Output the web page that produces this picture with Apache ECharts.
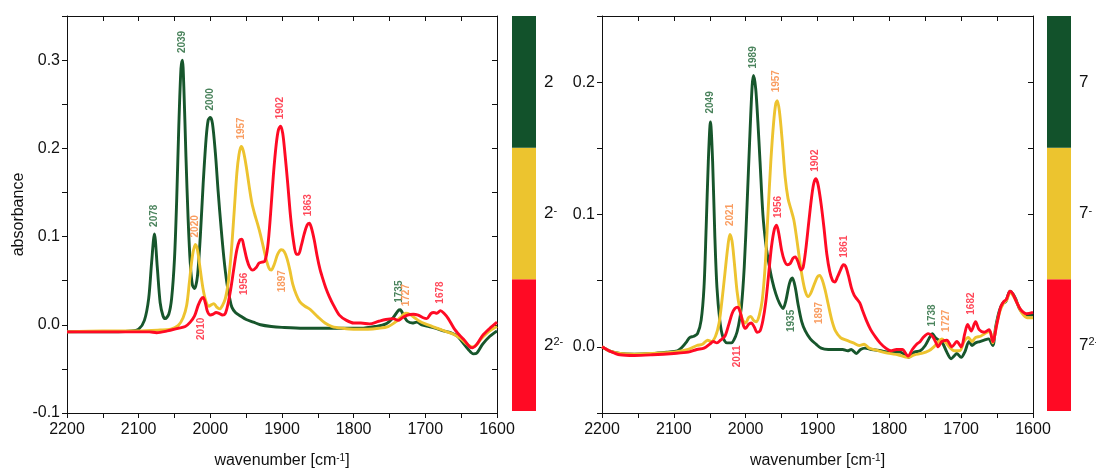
<!DOCTYPE html>
<html><head><meta charset="utf-8">
<script src="https://cdn.jsdelivr.net/npm/echarts@6/dist/echarts.min.js"></script>
<style>html,body{margin:0;padding:0;background:#fff}#c{width:1096px;height:469px}</style>
</head><body><div id="c"></div>
<script>
// ---------- data: [wavenumber, absorbance] ----------
const specL2 = [[2200,-0.008],[2150,-0.008],[2110,-0.007],[2100,-0.005],[2092,0.005],[2086,0.030],[2082,0.070],[2078,0.103],[2074,0.065],[2070,0.025],[2066,0.010],[2063,0.007],[2058,0.012],[2054,0.030],[2050,0.075],[2047,0.140],[2044,0.225],[2041,0.290],[2039,0.300],[2037,0.270],[2034,0.190],[2031,0.120],[2028,0.070],[2025,0.045],[2022,0.041],[2018,0.055],[2014,0.100],[2010,0.160],[2006,0.210],[2003,0.232],[2000,0.235],[1997,0.228],[1993,0.195],[1989,0.150],[1985,0.110],[1981,0.075],[1977,0.048],[1973,0.030],[1970,0.020],[1965,0.014],[1958,0.010],[1950,0.006],[1940,0.003],[1930,0.000],[1915,-0.002],[1900,-0.003],[1870,-0.004],[1840,-0.004],[1810,-0.004],[1790,-0.004],[1770,-0.002],[1755,0.001],[1745,0.008],[1738,0.016],[1735,0.017],[1730,0.010],[1725,0.004],[1718,0.002],[1712,0.003],[1705,0.000],[1695,-0.002],[1685,-0.004],[1675,-0.007],[1665,-0.009],[1655,-0.013],[1648,-0.020],[1640,-0.028],[1633,-0.033],[1628,-0.032],[1620,-0.022],[1610,-0.013],[1600,-0.007]];
const specL2m = [[2200,-0.008],[2150,-0.007],[2100,-0.007],[2070,-0.006],[2055,-0.005],[2045,-0.001],[2038,0.008],[2033,0.022],[2029,0.050],[2025,0.078],[2021,0.091],[2018,0.085],[2014,0.062],[2010,0.040],[2006,0.026],[2002,0.021],[1998,0.023],[1995,0.024],[1991,0.020],[1987,0.018],[1983,0.022],[1979,0.030],[1975,0.048],[1971,0.080],[1967,0.125],[1963,0.172],[1960,0.193],[1957,0.202],[1954,0.197],[1950,0.180],[1946,0.158],[1942,0.138],[1938,0.125],[1934,0.114],[1930,0.102],[1926,0.088],[1922,0.074],[1918,0.064],[1915,0.062],[1911,0.068],[1906,0.080],[1901,0.085],[1897,0.083],[1893,0.075],[1889,0.062],[1885,0.046],[1880,0.034],[1875,0.026],[1868,0.021],[1860,0.017],[1850,0.009],[1840,0.002],[1830,-0.002],[1815,-0.004],[1800,-0.005],[1780,-0.005],[1765,-0.004],[1752,-0.002],[1742,0.003],[1735,0.008],[1727,0.013],[1722,0.012],[1715,0.008],[1708,0.004],[1700,0.001],[1690,-0.002],[1680,-0.005],[1670,-0.008],[1660,-0.011],[1650,-0.016],[1642,-0.022],[1635,-0.025],[1630,-0.024],[1622,-0.016],[1612,-0.008],[1600,-0.002]];
const specL2mm = [[2200,-0.008],[2150,-0.008],[2100,-0.008],[2085,-0.008],[2075,-0.009],[2060,-0.007],[2045,-0.004],[2035,-0.002],[2028,0.003],[2022,0.010],[2017,0.022],[2013,0.029],[2010,0.031],[2007,0.025],[2004,0.015],[2000,0.011],[1996,0.012],[1992,0.014],[1988,0.013],[1983,0.011],[1979,0.013],[1975,0.025],[1971,0.043],[1967,0.065],[1963,0.085],[1959,0.096],[1956,0.097],[1953,0.088],[1949,0.074],[1945,0.065],[1941,0.062],[1936,0.065],[1932,0.070],[1928,0.071],[1924,0.072],[1920,0.088],[1916,0.125],[1912,0.170],[1908,0.205],[1905,0.221],[1902,0.225],[1899,0.217],[1896,0.195],[1892,0.160],[1888,0.122],[1884,0.095],[1880,0.080],[1877,0.080],[1873,0.090],[1869,0.103],[1865,0.113],[1862,0.115],[1859,0.110],[1855,0.096],[1851,0.078],[1847,0.063],[1843,0.052],[1839,0.042],[1834,0.032],[1828,0.022],[1820,0.011],[1810,0.005],[1800,0.002],[1790,0.002],[1778,0.001],[1765,0.004],[1755,0.006],[1745,0.007],[1738,0.005],[1732,0.008],[1725,0.011],[1717,0.012],[1710,0.011],[1703,0.008],[1698,0.007],[1692,0.013],[1688,0.014],[1684,0.013],[1679,0.016],[1674,0.013],[1668,0.007],[1660,-0.004],[1652,-0.012],[1645,-0.018],[1638,-0.025],[1634,-0.026],[1628,-0.022],[1620,-0.012],[1610,-0.004],[1600,0.003]];

const specR7 = [[2200,0.000],[2190,-0.003],[2175,-0.005],[2155,-0.0055],[2130,-0.005],[2110,-0.004],[2095,-0.003],[2088,0.000],[2082,0.004],[2078,0.007],[2072,0.008],[2067,0.010],[2062,0.020],[2058,0.045],[2055,0.090],[2052,0.140],[2049,0.170],[2046,0.140],[2043,0.085],[2040,0.045],[2036,0.020],[2032,0.008],[2026,0.003],[2020,0.003],[2014,0.008],[2010,0.016],[2006,0.030],[2002,0.060],[1998,0.108],[1994.5,0.155],[1991,0.197],[1989,0.205],[1986,0.195],[1983,0.170],[1980,0.140],[1976,0.100],[1972,0.078],[1968,0.064],[1963,0.050],[1958,0.040],[1953,0.033],[1948,0.029],[1944,0.035],[1939,0.048],[1935,0.052],[1931,0.045],[1927,0.032],[1922,0.019],[1917,0.012],[1910,0.006],[1902,0.002],[1895,-0.001],[1885,-0.002],[1875,-0.002],[1865,-0.002],[1858,-0.003],[1853,-0.002],[1846,-0.005],[1840,-0.002],[1834,-0.001],[1825,-0.002],[1812,-0.003],[1800,-0.004],[1785,-0.004],[1773,-0.008],[1765,-0.004],[1757,-0.003],[1750,0.001],[1744,0.007],[1740,0.010],[1736,0.007],[1731,0.005],[1726,0.003],[1720,-0.004],[1714,-0.009],[1710,-0.007],[1706,-0.005],[1700,-0.008],[1695,-0.004],[1689,0.004],[1685,0.001],[1680,0.003],[1674,0.004],[1668,0.005],[1662,0.006],[1656,0.001],[1652,0.015],[1647,0.027],[1642,0.033],[1638,0.034],[1632,0.042],[1628,0.040],[1624,0.036],[1619,0.029],[1613,0.025],[1607,0.024],[1600,0.024]];
const specR7m = [[2200,0.000],[2190,-0.003],[2175,-0.005],[2155,-0.0055],[2130,-0.005],[2100,-0.004],[2080,-0.002],[2068,0.001],[2060,0.002],[2053,0.005],[2048,0.004],[2042,0.008],[2037,0.018],[2033,0.035],[2029,0.055],[2025,0.075],[2022,0.085],[2019,0.080],[2016,0.065],[2012,0.042],[2008,0.028],[2004,0.020],[2000,0.018],[1996,0.022],[1993,0.023],[1989,0.020],[1985,0.019],[1981,0.024],[1977,0.035],[1973,0.060],[1969,0.100],[1965,0.140],[1961,0.170],[1958,0.184],[1956,0.186],[1953,0.178],[1949,0.155],[1945,0.128],[1941,0.112],[1937,0.104],[1933,0.096],[1929,0.082],[1925,0.066],[1921,0.052],[1917,0.042],[1913,0.038],[1909,0.041],[1904,0.048],[1900,0.053],[1897,0.054],[1893,0.050],[1889,0.042],[1885,0.032],[1880,0.020],[1875,0.012],[1868,0.007],[1860,0.005],[1850,0.003],[1842,0.001],[1835,0.002],[1828,-0.001],[1815,-0.003],[1800,-0.005],[1788,-0.006],[1774,-0.008],[1765,-0.006],[1755,-0.005],[1745,-0.003],[1738,0.000],[1733,0.003],[1727,0.006],[1721,0.003],[1715,-0.001],[1710,-0.003],[1702,-0.003],[1696,0.004],[1690,0.007],[1685,0.004],[1680,0.007],[1673,0.008],[1667,0.010],[1660,0.012],[1656,0.003],[1651,0.016],[1646,0.027],[1641,0.033],[1637,0.035],[1632,0.041],[1628,0.039],[1622,0.033],[1616,0.026],[1608,0.022],[1600,0.022]];
const specR7mm = [[2200,0.000],[2190,-0.003],[2175,-0.006],[2155,-0.0065],[2130,-0.006],[2100,-0.005],[2080,-0.004],[2068,-0.002],[2058,-0.001],[2050,0.002],[2045,0.004],[2040,0.003],[2035,0.005],[2029,0.008],[2024,0.016],[2019,0.025],[2015,0.029],[2011,0.030],[2007,0.025],[2003,0.016],[2000,0.014],[1996,0.017],[1992,0.018],[1988,0.015],[1984,0.011],[1980,0.012],[1976,0.020],[1972,0.034],[1968,0.055],[1964,0.076],[1960,0.089],[1957,0.092],[1954,0.086],[1950,0.073],[1946,0.065],[1942,0.062],[1938,0.063],[1934,0.067],[1931,0.068],[1927,0.064],[1923,0.058],[1920,0.060],[1916,0.075],[1912,0.095],[1908,0.114],[1905,0.124],[1902,0.127],[1899,0.122],[1895,0.108],[1891,0.090],[1887,0.070],[1883,0.057],[1879,0.050],[1876,0.049],[1872,0.053],[1868,0.058],[1864,0.062],[1861,0.061],[1857,0.054],[1853,0.045],[1849,0.039],[1845,0.036],[1841,0.033],[1837,0.027],[1832,0.020],[1826,0.013],[1820,0.008],[1813,0.003],[1805,-0.001],[1798,-0.003],[1790,-0.002],[1782,-0.002],[1774,-0.007],[1768,-0.002],[1762,0.002],[1757,0.004],[1753,0.007],[1746,0.010],[1740,0.008],[1735,0.003],[1732,0.000],[1727,0.004],[1720,0.005],[1713,0.000],[1706,0.004],[1700,0.000],[1695,0.010],[1691,0.017],[1686,0.012],[1680,0.019],[1675,0.013],[1668,0.011],[1661,0.013],[1656,0.004],[1650,0.018],[1645,0.030],[1641,0.034],[1637,0.036],[1632,0.042],[1628,0.040],[1623,0.034],[1617,0.028],[1609,0.025],[1600,0.026]];

// peak annotations: text, wavenumber, absorbance anchor, side, colour index (0 neutral,1 anion,2 dianion)
const annL_text = ['2078','2039','2000','2020','1957','1902','1863','1735','1727','1678','2010','1956','1897'];
const annL_wn   = [2078,2039,2000,2021,1957,1902,1863,1737,1726,1679,2012,1952,1900];
const annL_abs  = [0.103,0.300,0.235,0.091,0.202,0.225,0.115,0.017,0.013,0.016,0.008,0.059,0.062];
const annL_side = ['up','up','up','up','up','up','up','up','up','up','down','down','down'];
const annL_col  = [0,0,0,1,1,2,2,0,1,2,2,2,1];
const annR_text = ['2049','1989','2021','1957','1956','1902','1861','1738','1727','1682','2011','1935','1897'];
const annR_wn   = [2050,1990,2022,1957,1955,1903,1863,1740,1721,1686,2012,1937,1897];
const annR_abs  = [0.171,0.205,0.086,0.187,0.092,0.127,0.062,0.010,0.006,0.019,0.001,0.028,0.034];
const annR_side = ['up','up','up','up','up','up','up','up','up','up','down','down','down'];
const annR_col  = [0,0,1,1,2,2,2,0,1,2,2,0,1];

// colour-bar legend (bottom to top)
const cbL_base = ['2','2','2'];
const cbR_base = ['7','7','7'];
const cb_sup   = ['2-','-',''];

const xTicks = {min:1600, max:2200, interval:50};
const yLeft  = {min:-0.1, max:0.35, interval:0.05};
const yRight = {min:-0.05, max:0.25, interval:0.05};

// ---------- styling ----------
const FONT = 'Liberation Sans, Arial, sans-serif';
const LINE = ['#17562c','#edc32f','#ff0a24'];
const BAR  = ['#12522b','#ecc42f','#ff0a24'];
const LBL  = ['#1d6433','#f7843a','#ff1a30'];
const AX = '#111';

function yFmt(v){ const k = Math.round(v*100); return (k % 10 === 0) ? (k/100).toFixed(1) : ''; }
function xFmt(v){ return (Math.round(v) % 100 === 0) ? String(Math.round(v)) : ''; }

const grids = [
  {left:67, top:16, width:430, height:397, outerBoundsMode:'none', containLabel:false},
  {left:602, top:16, width:431, height:397, outerBoundsMode:'none', containLabel:false},
  {left:512, top:16, width:24, height:395, outerBoundsMode:'none', containLabel:false},
  {left:1047, top:16, width:24, height:395, outerBoundsMode:'none', containLabel:false}
];

function xAxes(g){
  return [
    {type:'value', gridIndex:g, position:'bottom', inverse:true, min:xTicks.min, max:xTicks.max, interval:xTicks.interval,
     axisLine:{show:true, onZero:false, lineStyle:{color:AX, width:1}},
     axisTick:{show:true, inside:false, length:5, lineStyle:{color:AX}},
     axisLabel:{formatter:xFmt, fontSize:16, color:AX, fontFamily:FONT, margin:9, showMinLabel:true, showMaxLabel:true},
     splitLine:{show:false},
     name:'wavenumber [cm{s|-1}]', nameLocation:'middle', nameGap:40,
     nameTextStyle:{fontSize:16, color:AX, fontFamily:FONT, rich:{s:{fontSize:10, color:AX, fontFamily:FONT, verticalAlign:'top', lineHeight:14}}}},
    {type:'value', gridIndex:g, position:'top', inverse:true, min:xTicks.min, max:xTicks.max, interval:xTicks.interval,
     axisLine:{show:true, onZero:false, lineStyle:{color:AX, width:1}},
     axisTick:{show:true, inside:true, length:5, lineStyle:{color:AX}},
     axisLabel:{show:false}, splitLine:{show:false}}
  ];
}
function yAxes(g, r, name){
  return [
    {type:'value', gridIndex:g, position:'left', min:r.min, max:r.max, interval:r.interval,
     axisLine:{show:true, onZero:false, lineStyle:{color:AX, width:1}},
     axisTick:{show:true, inside:false, length:5, lineStyle:{color:AX}},
     axisLabel:{formatter:yFmt, fontSize:16, color:AX, fontFamily:FONT, margin:7},
     splitLine:{show:false},
     name:name, nameLocation:'middle', nameGap:40, nameRotate:90,
     nameTextStyle:{fontSize:16, color:AX, fontFamily:FONT}},
    {type:'value', gridIndex:g, position:'right', min:r.min, max:r.max, interval:r.interval,
     axisLine:{show:true, onZero:false, lineStyle:{color:AX, width:1}},
     axisTick:{show:true, inside:true, length:5, lineStyle:{color:AX}},
     axisLabel:{show:false}, splitLine:{show:false}}
  ];
}

const xAxis = [...xAxes(0), ...xAxes(1),
  {type:'category', gridIndex:2, data:['c'], show:false},
  {type:'category', gridIndex:3, data:['c'], show:false}];
const yAxis = [...yAxes(0, yLeft, 'absorbance'), ...yAxes(1, yRight, ''),
  {type:'value', gridIndex:2, min:0, max:3, show:false},
  {type:'value', gridIndex:3, min:0, max:3, show:false}];

function lineSeries(data, xi, yi, ci){
  return {type:'line', data:data, xAxisIndex:xi, yAxisIndex:yi, showSymbol:false, symbol:'none',
    smooth:0.3, lineStyle:{color:LINE[ci], width:2.9}, itemStyle:{color:LINE[ci]}, silent:true, z:2+ci};
}
function annSeries(txt, wn, ab, side, col, xi, yi){
  const data = txt.map((t,i)=>({
    name:t, value:[wn[i], ab[i]],
    label: side[i]==='up'
      ? {position:'top', distance:7, align:'left', verticalAlign:'middle', color:LBL[col[i]]}
      : {position:'bottom', distance:0, align:'right', verticalAlign:'middle', color:LBL[col[i]]}
  }));
  return {type:'scatter', data:data, xAxisIndex:xi, yAxisIndex:yi, symbolSize:0, silent:true, z:10,
    label:{show:true, rotate:90, formatter:'{b}', fontSize:10, fontWeight:'bold', fontFamily:FONT}};
}
const cbRich = {b:{fontSize:17, color:AX, fontFamily:FONT}, s:{fontSize:11, color:AX, fontFamily:FONT, verticalAlign:'top', lineHeight:12}};
function cbSeries(base, gi, stack){
  // bottom to top: dianion (red), anion (yellow), neutral (green)
  const colIdx = [2,1,0];
  return base.map((b,i)=>({
    type:'bar', xAxisIndex:gi, yAxisIndex:gi, stack:stack, data:[1], barWidth:'100%', silent:true,
    itemStyle:{color:BAR[colIdx[i]]},
    label:{show:true, position:'right', distance:8,
      formatter: cb_sup[i] ? '{b|'+b+'}{s|'+cb_sup[i]+'}' : '{b|'+b+'}', rich:cbRich}
  }));
}

const option = {
  animation:false,
  backgroundColor:'#fff',
  grid:grids, xAxis:xAxis, yAxis:yAxis,
  series:[
    lineSeries(specL2, 0, 0, 0), lineSeries(specL2m, 0, 0, 1), lineSeries(specL2mm, 0, 0, 2),
    lineSeries(specR7, 2, 2, 0), lineSeries(specR7m, 2, 2, 1), lineSeries(specR7mm, 2, 2, 2),
    annSeries(annL_text, annL_wn, annL_abs, annL_side, annL_col, 0, 0),
    annSeries(annR_text, annR_wn, annR_abs, annR_side, annR_col, 2, 2),
    ...cbSeries(cbL_base, 4, 'cbl'),
    ...cbSeries(cbR_base, 5, 'cbr')
  ]
};
const chart = echarts.init(document.getElementById('c'), null, {renderer:'canvas'});
chart.setOption(option);
</script>
</body></html>
